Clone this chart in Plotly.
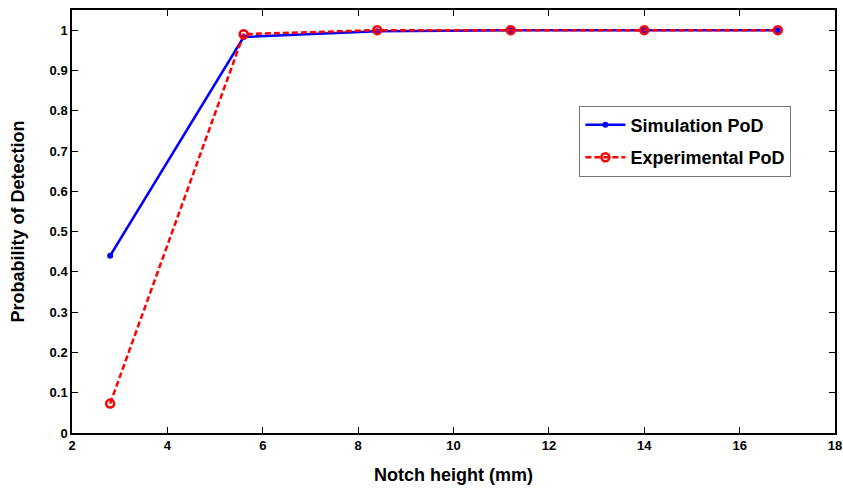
import plotly.graph_objects as go

notch_height = [2.8, 5.6, 8.4, 11.2, 14.0, 16.8]
sim_pod = [0.44, 0.983, 0.997, 1.0, 1.0, 1.0]
exp_pod = [0.073, 0.99, 1.0, 1.0, 1.0, 1.0]
x_ticks = [2, 4, 6, 8, 10, 12, 14, 16, 18]
y_ticks = [0, 0.1, 0.2, 0.3, 0.4, 0.5, 0.6, 0.7, 0.8, 0.9, 1]
y_tick_labels = ["0", "0.1", "0.2", "0.3", "0.4", "0.5", "0.6", "0.7", "0.8", "0.9", "1"]

FONT = "Arial, Liberation Sans, sans-serif"

fig = go.Figure()
fig.add_trace(go.Scatter(
    x=notch_height, y=sim_pod, mode="lines+markers", name="Simulation PoD",
    legendgroup="sim",
    line=dict(color="#0000ff", width=2.5),
    marker=dict(symbol="circle", size=6, color="#0000ff"),
))
fig.add_trace(go.Scatter(
    x=notch_height, y=exp_pod, mode="lines+markers", name="Experimental PoD",
    legendgroup="exp",
    line=dict(color="#ff0000", width=2.5, dash="6px,3px"),
    marker=dict(symbol="circle-open", size=8, color="#ff0000", line=dict(width=2.5)),
))

axis_common = dict(
    showgrid=False, zeroline=False, showline=True, linecolor="black", linewidth=1.5,
    mirror="ticks", ticks="inside", ticklen=6, tickwidth=1, tickcolor="black",
    automargin=False, ticklabeloverflow="allow",
    tickfont=dict(family=FONT, size=13, color="black", weight="bold"),
)

fig.update_layout(
    width=843, height=488,
    margin=dict(l=72, r=8, t=10, b=55),
    paper_bgcolor="white", plot_bgcolor="white",
    xaxis=dict(range=[2, 18], tickvals=x_ticks, ticktext=[str(v) for v in x_ticks],
               title=dict(text="Notch height (mm)", standoff=16,
                          font=dict(family=FONT, size=18, color="black", weight="bold")),
               **axis_common),
    yaxis=dict(range=[0, 1.05], tickvals=y_ticks, ticktext=y_tick_labels,
               title=dict(text="Probability of Detection", standoff=20,
                          font=dict(family=FONT, size=18, color="black", weight="bold")),
               **axis_common),
    legend=dict(x=0.665, y=0.774, xanchor="left", yanchor="top",
                bgcolor="white", bordercolor="#777777", borderwidth=1,
                font=dict(family=FONT, size=18, color="black", weight="bold"),
                tracegroupgap=6, itemwidth=40),
    showlegend=True,
)

# remove the default 8px page margin so the 843x488 figure fills the window exactly
fig.write_html("out.html", config={"displayModeBar": False},
               post_script="document.body.style.margin='0px';document.body.style.overflow='hidden';")
